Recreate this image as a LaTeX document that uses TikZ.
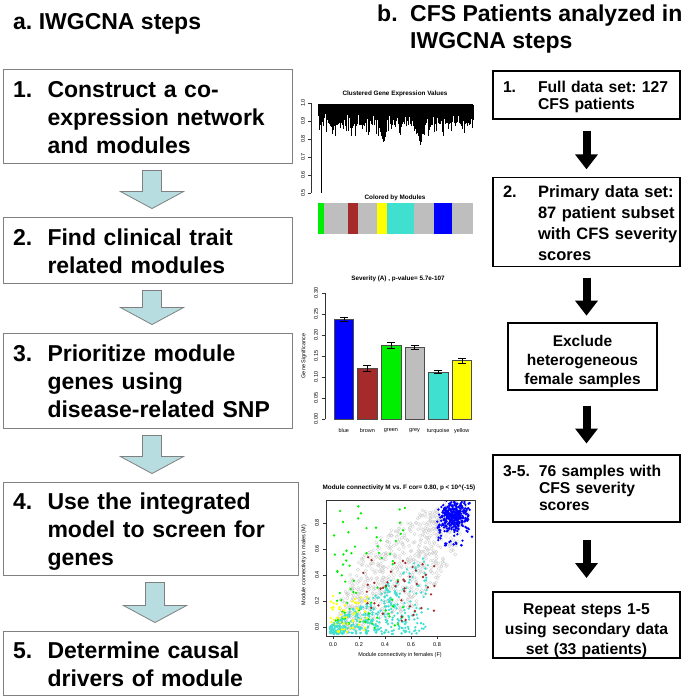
\documentclass[tikz,border=0pt]{standalone}
\usepackage{fontspec}
\setmainfont{Liberation Sans}
\usetikzlibrary{positioning, arrows.meta, calc}

\definecolor{boxgray}{RGB}{128,128,128}
\definecolor{flowfill}{RGB}{183,221,224}
\definecolor{rblue}{RGB}{0,0,255}
\definecolor{rbrown}{RGB}{165,42,42}
\definecolor{rgreen}{RGB}{0,238,0}
\definecolor{rgrey}{RGB}{190,190,190}
\definecolor{rturq}{RGB}{64,224,208}
\definecolor{ryellow}{RGB}{255,255,0}

% number in front, lines of text hanging after it
\newcommand{\numtext}[3]{\makebox[#1][l]{#2}\begin{tabular}[t]{@{}l@{}}#3\end{tabular}}

% wide pale arrow between two step boxes
\newcommand{\stepflow}[2]{%
  \draw[flowarrow] let \p1=($(#1.south)+(4.5,7)$), \p2=($(#2.north)+(0,-8)$) in
    (\x1-9.5pt,\y1) -- (\x1-9.5pt,\y2+17pt) -- (\x1-31.5pt,\y2+17pt) -- (\x1,\y2)
    -- (\x1+31.5pt,\y2+17pt) -- (\x1+9.5pt,\y2+17pt) -- (\x1+9.5pt,\y1) -- cycle;}

\frenchspacing

\begin{document}
\begin{tikzpicture}[x=1pt, y=-1pt,
  stepbox/.style={draw=boxgray, line width=0.9pt, inner xsep=10pt, inner ysep=0pt,
                  align=left, text width=269pt, text height=26.5pt,
                  font=\fontsize{23}{28}\selectfont\bfseries},
  cfsbox/.style={draw=black, line width=1.4pt, inner xsep=10pt, inner ysep=0pt,
                 align=left, text width=167pt, text height=17pt,
                 font=\fontsize{15.7}{17}\selectfont\bfseries},
  heading/.style={inner sep=0pt, anchor=base west, font=\fontsize{23}{27}\selectfont\bfseries},
  flowarrow/.style={draw=boxgray, fill=flowfill, line width=0.8pt},
  cfsarrow/.style={line width=8pt, -{Triangle[width=22pt, length=15pt]}},
  plottitle/.style={inner sep=0pt, font=\fontsize{6.35}{7}\selectfont\bfseries},
  ticklabel/.style={inner sep=0pt, font=\fontsize{5.5}{6}\selectfont},
  axisline/.style={line width=0.4pt, draw=black!80},
  gpt/.style={draw=gray!40, line width=0.3pt}
]
\useasboundingbox (0,0) rectangle (685,699);

% headings
\node[heading] (heada) at (13,29) {a. IWGCNA steps};
\node[heading] (headb) at (377,21) {\numtext{33pt}{b.}{CFS Patients analyzed in\\IWGCNA steps}};

% a. IWGCNA steps
\node[stepbox, minimum height=94pt] (s1) at (147.5,116)
  {\numtext{34.5pt}{1.}{Construct a co-\\expression network\\and modules}};
\node[stepbox, minimum height=66pt] (s2) at (147.5,250)
  {\numtext{34.5pt}{2.}{Find clinical trait\\related modules}};
\node[stepbox, minimum height=95pt] (s3) at (147.5,380.5)
  {\numtext{34.5pt}{3.}{Prioritize module\\genes using\\disease-related SNP}};
\node[stepbox, minimum height=93pt, text width=275pt] (s4) at (150.5,528.5)
  {\numtext{34.5pt}{4.}{Use the integrated\\model to screen for\\genes}};
\node[stepbox, minimum height=64pt, text width=275pt] (s5) at (150.5,663)
  {\numtext{34.5pt}{5.}{Determine causal\\drivers of module}};

\stepflow{s1}{s2}
\stepflow{s2}{s3}
\stepflow{s3}{s4}
\stepflow{s4}{s5}

% b. patients in each step
\node[cfsbox, minimum height=48pt, text height=18pt] (r1) at (586.5,95)
  {\numtext{35pt}{1.}{Full data set: 127\\CFS patients}};
\node[cfsbox, minimum height=86pt, text height=19.3pt,
      font=\fontsize{16.5}{21}\selectfont\bfseries] (r2) at (586.5,222)
  {\numtext{35pt}{2.}{Primary data set:\\87 patient subset\\with CFS severity\\scores}};
\node[cfsbox, minimum height=67pt, text width=129pt, align=center, text height=20.7pt,
      font=\fontsize{15.5}{19}\selectfont\bfseries] (r3) at (582.5,356.5)
  {Exclude\\heterogeneous\\female samples};
\node[cfsbox, minimum height=67pt, text height=16pt] (r4) at (586.5,488.5)
  {\numtext{36pt}{3-5.}{76 samples with\\CFS severity\\scores}};
\node[cfsbox, minimum height=66pt, align=center, text height=22pt,
      font=\fontsize{15.7}{20}\selectfont\bfseries] (r5) at (586.5,625)
  {Repeat steps 1-5\\using secondary data\\set (33 patients)};

\path (r1.south) -- (r1.south |- r2.north) coordinate[midway] (m1);
\path (r2.south) -- (r2.south |- r3.north) coordinate[midway] (m2);
\path (r4.north |- r3.south) -- (r4.north) coordinate[midway] (m3);
\path (r4.south) -- (r5.north) coordinate[midway] (m4);
\foreach \m in {m1,m2,m3,m4}
  \draw[cfsarrow] ([yshift=17pt]\m) -- ([yshift=-21pt]\m);

\pgfmathsetseed{42}

% dendrogram
\node[plottitle] (dtitle) at (395,94) {Clustered Gene Expression Values};
\draw[axisline] (311,103) -- (311,193);
\foreach \v [count=\n from 0] in {1.0,0.9,0.8,0.7,0.6,0.5}{
  \draw[axisline] (311,103+18*\n) -- (308,103+18*\n);
  \node[ticklabel, rotate=90, name=dy\n] at (303,103+18*\n) {\v};
}
\begin{scope}[line width=0.3pt]
  \foreach \i in {0,...,386}{
    \pgfmathsetmacro\dx{318.5+0.4*\i}
    \pgfmathsetmacro\dy{113+13*rnd+10*(rnd>0.8)}
    \draw (\dx,105) -- (\dx,\dy);
  }
  \draw (318,104) -- (473,104);
  \draw (321,104) -- (321,193);
  \draw (319.5,104) -- (319.5,130);
  \foreach \dx/\dy in {379/128,380/132,381/136,382/139,383/142,384/141,385/137,386/132}
    \draw (\dx,110) -- (\dx,\dy);
  \foreach \dx/\dy in {417/130,418/136,419/141,420/145,421/142,422/134}
    \draw (\dx,110) -- (\dx,\dy);
\end{scope}

% module colours
\node[plottitle] (ctitle) at (395,198) {Colored by Modules};
\foreach \a/\b/\c in {318/324/rgreen, 324/348/rgrey, 348/358/rbrown, 358/377/rgrey,
                      377/387/ryellow, 387/414/rturq, 414/434/rgrey, 434/452/rblue, 452/473/rgrey}
  \fill[\c] (\a,203) rectangle (\b,234);

% gene significance bars
\node[plottitle] (btitle) at (398,279) {Severity (A) , p-value= 5.7e-107};
\draw[axisline] (325,419) -- (325,293);
\foreach \v [count=\n] in {0.00,0.05,0.10,0.15,0.20,0.25,0.30}{
  \draw[axisline] (325,419-420*\v) -- (322,419-420*\v);
  \node[ticklabel, rotate=90, name=gy\n] at (316,419-420*\v) {\v};
}
\node[ticklabel, rotate=90] (gylab) at (304,356) {Gene Significance};
\foreach \v/\e/\c/\lab [count=\n from 0] in {0.238/0.005/rblue/blue, 0.121/0.007/rbrown/brown,
    0.176/0.007/rgreen/green, 0.171/0.004/rgrey/grey, 0.112/0.004/rturq/turquoise,
    0.140/0.006/ryellow/yellow}{
  \pgfmathsetmacro\bx{334+23.6*\n}
  \filldraw[fill=\c, draw=black!70, line width=0.3pt] (\bx,419) rectangle (\bx+19.5,419-420*\v);
  \draw[line width=0.35pt] (\bx+9.75,419-420*\v+420*\e) -- (\bx+9.75,419-420*\v-420*\e);
  \draw[line width=0.35pt] (\bx+5.75,419-420*\v+420*\e) -- (\bx+13.75,419-420*\v+420*\e);
  \draw[line width=0.35pt] (\bx+5.75,419-420*\v-420*\e) -- (\bx+13.75,419-420*\v-420*\e);
  \node[ticklabel, name=bl\n] at (\bx+9.75,431) {\lab};
}

% connectivity scatter
\node[plottitle] (stitle) at (399,488) {Module connectivity M vs. F cor= 0.80, p < 10\textasciicircum(-15)};
\begin{scope}
  \clip (326,500) rectangle (475,636);
  \foreach \i in {1,...,750}{
    \pgfmathsetmacro\t{rnd}
    \pgfmathsetmacro\u{(8+30*sin(180*\t))*rand}
    \pgfmathsetmacro\s{8*rand}
    \draw[gpt] (343+117*\t+0.69*\u+0.72*\s, 624-114*\t+0.72*\u-0.69*\s) circle[radius=1.6];
  }
  \foreach \i in {1,...,420}{
    \pgfmathsetmacro\px{330+98*rnd^1.3}
    \pgfmathsetmacro\py{634-(8+0.75*(\px-330))*rnd^1.2}
    \fill[rturq] (\px,\py) circle[radius=1.3];
  }
  \foreach \i in {1,...,75}{
    \pgfmathsetmacro\px{334+72*rnd}
    \pgfmathsetmacro\py{505+125*rnd^0.8}
    \fill[rgreen] (\px,\py) circle[radius=1.3];
  }
  \foreach \i in {1,...,55}
    \fill[ryellow] (330+38*rnd,596+36*rnd) circle[radius=1.3];
  \foreach \i in {1,...,45}
    \fill[rbrown] (362+75*rnd,556+70*rnd) circle[radius=1.3];
  \foreach \i in {1,...,320}
    \fill[rblue] (454+9*rand+9*rand,516+9*rand+9*rand) circle[radius=1.3];
  \foreach \i in {1,...,30}
    \fill[rblue] (437+35*rnd,520+30*rnd) circle[radius=1.3];
\end{scope}
\draw[axisline] (326,500) rectangle (475,636);
\foreach \v [count=\n from 0] in {0.0,0.2,0.4,0.6,0.8}{
  \draw[axisline] (326,627-26*\n) -- (323,627-26*\n);
  \node[ticklabel, rotate=90, name=sy\n] at (317,627-26*\n) {\v};
  \draw[axisline] (333+26*\n,636) -- (333+26*\n,639);
  \node[ticklabel, name=sx\n] at (333+26*\n,645) {\v};
}
\node[ticklabel, rotate=90] (sylab) at (304,565) {Module connectivity in males (M)};
\node[ticklabel] (sxlab) at (400,655) {Module connectivity in females (F)};
\end{tikzpicture}
\end{document}
